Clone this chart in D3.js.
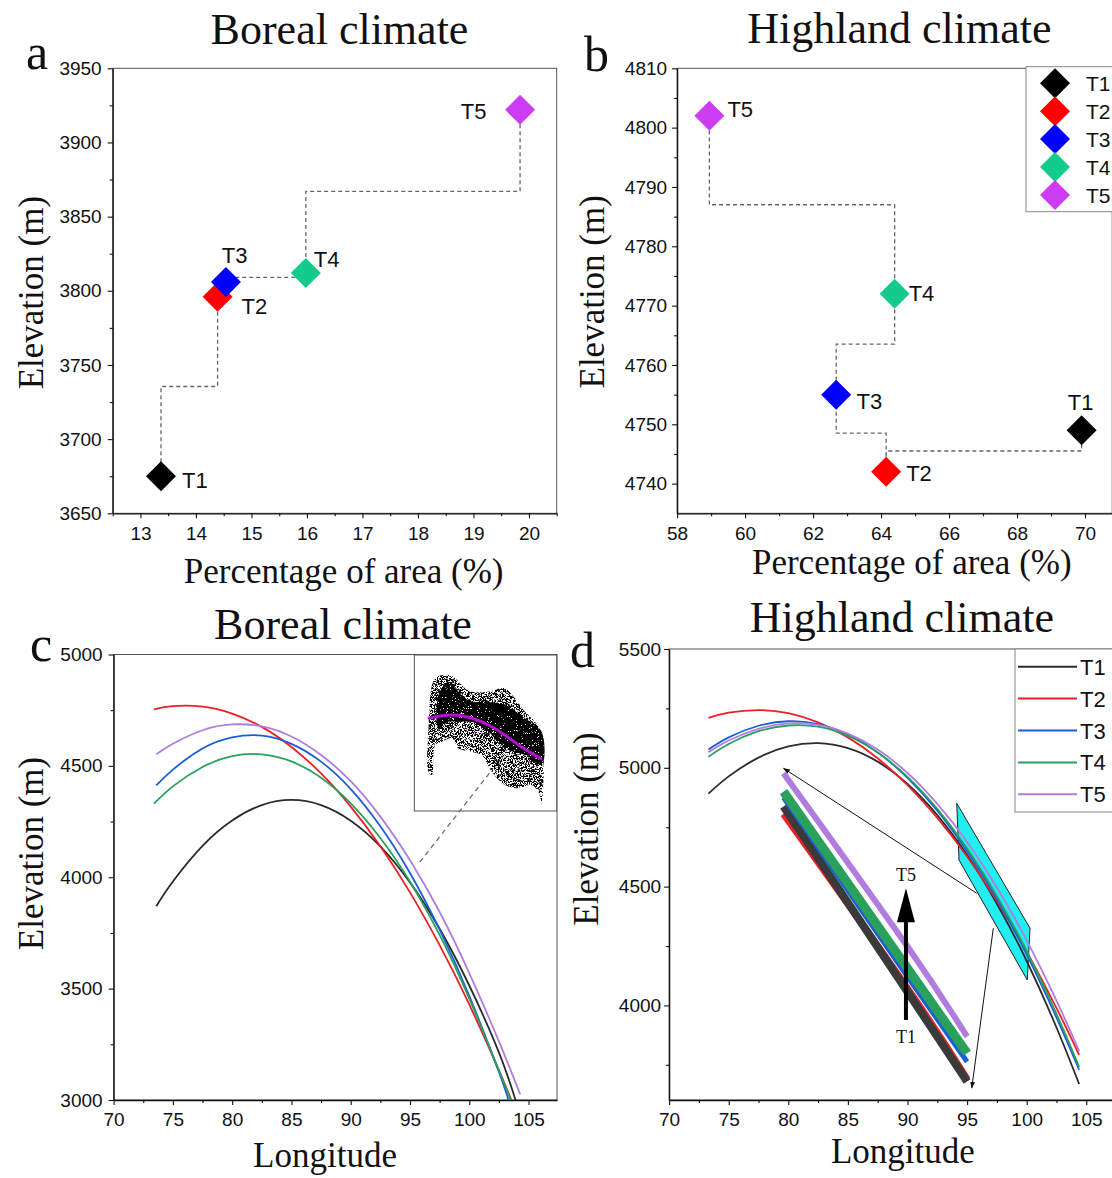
<!DOCTYPE html>
<html>
<head>
<meta charset="utf-8" />
<title>Elevation of T1-T5 in boreal and highland climate</title>
<style>
html, body { margin: 0; padding: 0; background: #fff; }
svg text { font-family: "Liberation Sans", Arial, sans-serif; fill: #111; }
svg text.serif { font-family: "Liberation Serif", "Times New Roman", serif; }
</style>
</head>
<body>
<svg id="chart" width="1112" height="1178"></svg>
<script src="https://d3js.org/d3.v7.min.js"></script>
<script>

// ---------------------------------------------------------
// Data

const classes = ['T1', 'T2', 'T3', 'T4', 'T5']
const markerColors = ['#000000', '#ff0000', '#0000ff', '#14cc8a', '#cc3cf2']
const lineColors = ['#2b2b2b', '#ec2027', '#1b5fd8', '#29a05c', '#b07ddf']

// a - boreal climate: elevation vs share of area
const borealPct = [13.37, 14.39, 14.54, 15.98, 19.84]
const borealElev = [3675, 3796, 3806, 3812, 3922]

// b - highland climate
const highlandPct = [69.9, 64.15, 62.68, 64.4, 58.95]
const highlandElev = [4749, 4742, 4755, 4772, 4802]

// tick labels
const pctTicksA = [13, 14, 15, 16, 17, 18, 19, 20]
const elevTicksA = [3650, 3700, 3750, 3800, 3850, 3900, 3950]
const pctTicksB = [58, 60, 62, 64, 66, 68, 70]
const elevTicksB = [4740, 4750, 4760, 4770, 4780, 4790, 4800, 4810]
const lonTicks = [70, 75, 80, 85, 90, 95, 100, 105]
const elevTicksC = [3000, 3500, 4000, 4500, 5000]
const elevTicksD = [4000, 4500, 5000, 5500]

// c - boreal fitted curves [longitude, elevation]
const borealT1 = [[73.6,3870],[75,3981],[77.5,4141],[80,4255],[82.5,4324],[85,4347],[87.5,4324],[90,4254],[92.5,4139],[95,3977],[97.5,3769],[100,3514],[102.5,3214],[103.9,3000]]
const borealT2 = [[73.4,4754],[75,4768],[77.5,4766],[80,4735],[82.5,4675],[85,4585],[87.5,4466],[90,4317],[92.5,4139],[95,3932],[97.5,3695],[100,3429],[102.5,3133],[103.55,3000]]
const borealT3 = [[73.6,4412],[75,4483],[77.5,4578],[80,4628],[82.5,4636],[85,4599],[87.5,4519],[90,4396],[92.5,4229],[95,4019],[97.5,3765],[100,3468],[102.5,3126],[103.3,3000]]
const borealT4 = [[73.4,4330],[75,4408],[77.5,4495],[80,4544],[82.5,4552],[85,4520],[87.5,4447],[90,4332],[92.5,4176],[95,3980],[97.5,3741],[100,3455],[102.5,3133],[103.5,3000]]
const borealT5 = [[73.6,4552],[75,4599],[77.5,4660],[80,4686],[82.5,4677],[85,4632],[87.5,4549],[90,4431],[92.5,4272],[95,4076],[97.5,3844],[100,3570],[102.5,3263],[104.3,3025]]

// c inset - T5 sample cloud (outline of scatter) and its fit
const cloudOuterTop = [[75.4,4620],[77.0,5902],[80.2,5987],[81.75,5902],[84.1,5646],[85.7,5560],[89.7,5560],[93.6,5646],[96.0,5389],[98.4,5046],[100.8,4790],[102.4,4449]]
const cloudOuterBottom = [[102.4,2739],[101.6,2995],[100.0,3167],[96.8,3082],[93.6,3167],[90.5,3508],[88.1,3936],[85.7,4021],[82.5,4107],[81.0,4364],[78.6,4277],[77.0,4192],[76.2,3423],[75.4,3508]]
const cloudCoreTop = [[77.8,5474],[80.2,5816],[83.3,5474],[85.7,5303],[89.7,5303],[93.6,5218],[98.4,4877],[102.4,4533]]
const cloudCoreBottom = [[102.4,3679],[98.4,3936],[93.6,4107],[89.7,4533],[85.7,4790],[83.3,4790],[80.2,4790],[77.8,4620]]
const cloudFit = [[75.25,4877],[78.5,4940],[81.75,4961],[85.7,4877],[89.7,4705],[93.6,4449],[97.5,4149],[102.5,3825]]

// d - highland fitted curves
const highlandT1 = [[73.3,4891],[75,4964],[77.5,5043],[80,5090],[82.5,5104],[85,5083],[87.5,5026],[90,4932],[92.5,4801],[95,4633],[97.5,4428],[100,4187],[102.5,3907],[104.4,3669]]
const highlandT2 = [[73.3,5210],[75,5232],[77.5,5243],[80,5230],[82.5,5191],[85,5128],[87.5,5040],[90,4927],[92.5,4789],[95,4627],[97.5,4439],[100,4226],[102.5,3989],[104.4,3792]]
const highlandT3 = [[73.3,5077],[75,5128],[77.5,5177],[80,5196],[82.5,5184],[85,5140],[87.5,5065],[90,4958],[92.5,4820],[95,4649],[97.5,4448],[100,4214],[102.5,3949],[104.4,3729]]
const highlandT4 = [[73.3,5046],[75,5100],[77.5,5154],[80,5178],[82.5,5173],[85,5135],[87.5,5064],[90,4962],[92.5,4827],[95,4660],[97.5,4460],[100,4229],[102.5,3965],[104.4,3741]]
const highlandT5 = [[73.3,5066],[75,5115],[77.5,5164],[80,5187],[82.5,5181],[85,5144],[87.5,5077],[90,4978],[92.5,4848],[95,4688],[97.5,4496],[100,4274],[102.5,4020],[104.4,3808]]

// d - magnified segment (drawn inside the plot)
const zoomLon = [79.6, 89.9, 95.0]
const zoomT1 = [4837, 4065, 3680]
const zoomT2 = [4806, 4079, 3690]
const zoomT3 = [4875, 4128, 3763]
const zoomT4 = [4900, 4163, 3799]
const zoomT5 = [4977, 4255, 3869]

// d - annotations (longitude, elevation)
const cyanBox = [[94.13,4851],[100.28,4325],[100.05,4107],[94.32,4612]]
const arrowToZoomTop = [[95.81,4472],[79.6,4998]]
const arrowToZoomEnd = [[97.2,4325],[95.39,3652]]
const trendArrow = [[89.87,3939],[89.87,4493]]

// --------------------------------------------------------
// Setup

const svg = d3.select('#chart')
svg.append('rect').attr('width', 1112).attr('height', 1178).attr('fill', '#fff')

const defs = svg.append('defs')
defs.append('marker')
  .attr('id', 'head')
  .attr('viewBox', '0 0 10 10')
  .attr('refX', 9).attr('refY', 5)
  .attr('markerWidth', 7).attr('markerHeight', 7)
  .attr('orient', 'auto')
  .append('path').attr('d', 'M0,1.5 L10,5 L0,8.5 z').attr('fill', '#111')

// speckle texture so the inset cloud looks like a scatter
function speckle(id, bias) {
  const f = defs.append('filter').attr('id', id)
    .attr('x', 0).attr('y', 0).attr('width', 1).attr('height', 1)
  f.append('feTurbulence').attr('type', 'fractalNoise')
    .attr('baseFrequency', 1.6).attr('numOctaves', 2).attr('seed', 7).attr('result', 'n')
  f.append('feColorMatrix').attr('in', 'n').attr('type', 'matrix')
    .attr('values', `0 0 0 0 0  0 0 0 0 0  0 0 0 0 0  16 0 0 0 ${bias}`).attr('result', 'm')
  f.append('feComposite').attr('in', 'SourceGraphic').attr('in2', 'm').attr('operator', 'in')
}
speckle('sparse', -7.4)
speckle('dense', -4.4)

const fmt = d3.format('d')

function panel(opt) {
  const x = d3.scaleLinear().domain(opt.xDomain).range([opt.left, opt.right])
  const y = d3.scaleLinear().domain(opt.yDomain).range([opt.bottom, opt.top])
  const g = svg.append('g')

  g.append('clipPath').attr('id', 'clip-' + opt.id)
    .append('rect')
    .attr('x', opt.left).attr('y', opt.top)
    .attr('width', opt.right - opt.left).attr('height', opt.bottom - opt.top)

  g.append('rect')
    .attr('x', opt.left).attr('y', opt.top)
    .attr('width', opt.right - opt.left).attr('height', opt.bottom - opt.top)
    .attr('fill', 'none').attr('stroke', '#555').attr('stroke-width', 1)

  const xg = g.append('g').attr('transform', `translate(0,${opt.bottom})`)
  xg.call(d3.axisBottom(x).tickValues(opt.xTicks).tickFormat(fmt).tickSize(5).tickSizeOuter(0).tickPadding(opt.xPad))
  xg.append('g').call(d3.axisBottom(x).tickValues(opt.xMinor).tickSize(3).tickFormat(''))
    .call(s => s.select('.domain').remove())

  const yg = g.append('g').attr('transform', `translate(${opt.left},0)`)
  yg.call(d3.axisLeft(y).tickValues(opt.yTicks).tickFormat(fmt).tickSize(5).tickSizeOuter(0).tickPadding(opt.yPad))
  yg.append('g').call(d3.axisLeft(y).tickValues(opt.yMinor).tickSize(3).tickFormat(''))
    .call(s => s.select('.domain').remove())

  g.selectAll('.domain').attr('stroke', '#111').attr('stroke-width', 1.3)
  g.selectAll('.tick line').attr('stroke', '#111').attr('stroke-width', 1.1)
  g.selectAll('.tick text')
    .attr('font-size', 19)
    .attr('font-family', '"Liberation Sans", Arial, sans-serif')
    .attr('fill', '#111')

  const t = (txt, px, py, size, anchor, rot) => {
    const el = g.append('text').attr('class', 'serif')
      .attr('font-size', size).attr('text-anchor', anchor).text(txt)
    if (rot) el.attr('transform', `translate(${px},${py}) rotate(-90)`)
    else el.attr('x', px).attr('y', py)
    return el
  }
  t(opt.title, opt.titleX, opt.titleY, 44, 'middle')
  t(opt.letter, opt.letterX, opt.letterY, 50, 'start')
  t(opt.xLabel, opt.xLabelX, opt.xLabelY, 35, 'middle')
  t('Elevation (m)', opt.yLabelX, opt.yLabelY, 35, 'middle', true)

  return { g, x, y, clip: 'url(#clip-' + opt.id + ')' }
}

// vertical step through the midpoints between consecutive classes
function stepPoints(xs, ys) {
  const pts = [[xs[0], ys[0]]]
  for (let i = 1; i < xs.length; i++) {
    const mid = (ys[i - 1] + ys[i]) / 2
    pts.push([xs[i - 1], mid], [xs[i], mid], [xs[i], ys[i]])
  }
  return pts
}

const diamond = d3.symbol().type(d3.symbolSquare).size(450)

function scatterPanel(p, xs, ys, labelPos) {
  const line = d3.line().x(d => p.x(d[0])).y(d => p.y(d[1]))
  p.g.append('path')
    .attr('d', line(stepPoints(xs, ys)))
    .attr('fill', 'none').attr('stroke', '#666')
    .attr('stroke-width', 1.3).attr('stroke-dasharray', '4,3')

  classes.forEach((c, i) => {
    const cx = p.x(xs[i]), cy = p.y(ys[i])
    p.g.append('path')
      .attr('d', diamond())
      .attr('transform', `translate(${cx},${cy}) rotate(45)`)
      .attr('fill', markerColors[i])
    const lp = labelPos[i]
    p.g.append('text')
      .attr('x', cx + lp[0]).attr('y', cy + lp[1])
      .attr('text-anchor', lp[2])
      .attr('font-size', 22)
      .text(c)
  })
}

// --------------------------------------------------------
// a - Boreal climate

const pa = panel({
  id: 'a', left: 112.7, right: 556.7, top: 68.3, bottom: 513.3,
  xDomain: [12.5, 20.5], yDomain: [3650, 3950],
  xTicks: pctTicksA, xMinor: d3.range(12.5, 20.6, 1),
  yTicks: elevTicksA, yMinor: d3.range(3675, 3950, 50),
  xPad: 8, yPad: 6,
  title: 'Boreal climate', titleX: 339.5, titleY: 44,
  letter: 'a', letterX: 26, letterY: 69,
  xLabel: 'Percentage of area (%)', xLabelX: 343.7, xLabelY: 583,
  yLabelX: 43, yLabelY: 292.6
})
scatterPanel(pa, borealPct, borealElev, [
  [21, 11.5, 'start'], [24, 17, 'start'], [8.7, -19, 'middle'], [8, -6, 'start'], [-33.6, 9.6, 'end']
])

// --------------------------------------------------------
// b - Highland climate

const pb = panel({
  id: 'b', left: 677.1, right: 1112.2, top: 68.3, bottom: 513.3,
  xDomain: [58, 70.8], yDomain: [4735, 4810],
  xTicks: pctTicksB, xMinor: d3.range(59, 71, 2),
  yTicks: elevTicksB, yMinor: d3.range(4745, 4810, 10),
  xPad: 8, yPad: 5,
  title: 'Highland climate', titleX: 899.3, titleY: 43,
  letter: 'b', letterX: 584, letterY: 71,
  xLabel: 'Percentage of area (%)', xLabelX: 911.8, xLabelY: 574,
  yLabelX: 604, yLabelY: 291.8
})
scatterPanel(pb, highlandPct, highlandElev, [
  [-1, -20.7, 'middle'], [20, 9.6, 'start'], [20.4, 14, 'start'], [14, 7.6, 'start'], [18, 1, 'start']
])

// legend b
const legB = pb.g.append('g')
legB.append('rect').attr('x', 1026).attr('y', 66.7).attr('width', 100).attr('height', 145)
  .attr('fill', '#fff').attr('stroke', '#888')
classes.forEach((c, i) => {
  const ly = 83.3 + i * 27.9
  legB.append('path').attr('d', diamond())
    .attr('transform', `translate(1055,${ly}) rotate(45)`)
    .attr('fill', markerColors[i])
  legB.append('text').attr('x', 1086).attr('y', ly + 8).attr('font-size', 21).text(c)
})

// --------------------------------------------------------
// c - Boreal fitted curves

const pc = panel({
  id: 'c', left: 113.6, right: 557, top: 654.5, bottom: 1100,
  xDomain: [70, 107.4], yDomain: [3000, 5000],
  xTicks: lonTicks, xMinor: d3.range(72.5, 107, 5),
  yTicks: elevTicksC, yMinor: d3.range(3250, 5000, 500),
  xPad: 8, yPad: 6,
  title: 'Boreal climate', titleX: 343, titleY: 639,
  letter: 'c', letterX: 30, letterY: 661,
  xLabel: 'Longitude', xLabelX: 325, xLabelY: 1167,
  yLabelX: 43, yLabelY: 853.5
})
const curve = p => d3.line().curve(d3.curveNatural).x(d => p.x(d[0])).y(d => p.y(d[1]))

const borealCurves = [borealT1, borealT2, borealT3, borealT4, borealT5]
const cLines = pc.g.append('g').attr('clip-path', pc.clip)
borealCurves.forEach((s, i) => {
  cLines.append('path').attr('d', curve(pc)(s))
    .attr('fill', 'none').attr('stroke', lineColors[i]).attr('stroke-width', 1.8)
})

// inset with the T5 sample cloud
const xIn = d3.scaleLinear().domain([72, 106]).range([414.3, 556.7])
const yIn = d3.scaleLinear().domain([2500, 6500]).range([811, 655])
const inset = pc.g.append('g')
inset.append('rect').attr('x', 414.3).attr('y', 655).attr('width', 142.4).attr('height', 156)
  .attr('fill', '#fff').attr('stroke', '#555')
const blob = d3.line().curve(d3.curveCatmullRomClosed).x(d => xIn(d[0])).y(d => yIn(d[1]))
inset.append('path').attr('d', blob(cloudOuterTop.concat(cloudOuterBottom)))
  .attr('fill', '#000').attr('filter', 'url(#sparse)')
inset.append('path').attr('d', blob(cloudCoreTop.concat(cloudCoreBottom)))
  .attr('fill', '#000').attr('filter', 'url(#dense)')
inset.append('path')
  .attr('d', d3.line().curve(d3.curveNatural).x(d => xIn(d[0])).y(d => yIn(d[1]))(cloudFit))
  .attr('fill', 'none').attr('stroke', '#b40fd2').attr('stroke-width', 3)

// dashed pointer from the curves to the inset
pc.g.append('line')
  .attr('x1', pc.x(95.83)).attr('y1', pc.y(4068))
  .attr('x2', pc.x(102.02)).attr('y2', pc.y(4489))
  .attr('stroke', '#666').attr('stroke-width', 1.2).attr('stroke-dasharray', '5,4')

// --------------------------------------------------------
// d - Highland fitted curves

const pd = panel({
  id: 'd', left: 669.1, right: 1114.9, top: 649, bottom: 1100,
  xDomain: [70, 107.4], yDomain: [3602, 5500],
  xTicks: lonTicks, xMinor: d3.range(72.5, 107, 5),
  yTicks: elevTicksD, yMinor: d3.range(3750, 5500, 500),
  xPad: 8, yPad: 3,
  title: 'Highland climate', titleX: 901.8, titleY: 632,
  letter: 'd', letterX: 570, letterY: 667,
  xLabel: 'Longitude', xLabelX: 902.9, xLabelY: 1163,
  yLabelX: 598, yLabelY: 829
})

const dG = pd.g.append('g').attr('clip-path', pd.clip)

// magnified band of the curves
const bandLine = d3.line().curve(d3.curveNatural)
const zoomSeries = [zoomT2, zoomT1, zoomT3, zoomT4, zoomT5]
const zoomColors = ['#ec2027', '#3a3a3a', '#1b5fd8', '#29a05c', '#b07ddf']
const bandWidth = [7, 8, 5, 9, 6]
zoomSeries.forEach((s, i) => {
  const pts = zoomLon.map((lon, k) => [pd.x(lon), pd.y(s[k])])
  dG.append('path').attr('d', bandLine(pts))
    .attr('fill', 'none').attr('stroke', zoomColors[i])
    .attr('stroke-width', bandWidth[i])
})

// cyan selection box
dG.append('path')
  .attr('d', d3.line().x(d => pd.x(d[0])).y(d => pd.y(d[1]))(cyanBox) + 'Z')
  .attr('fill', '#22eef2').attr('stroke', '#222').attr('stroke-width', 1)

const highlandCurves = [highlandT1, highlandT2, highlandT3, highlandT4, highlandT5]
highlandCurves.forEach((s, i) => {
  dG.append('path').attr('d', curve(pd)(s))
    .attr('fill', 'none').attr('stroke', lineColors[i]).attr('stroke-width', 1.8)
})

// thin pointers from the box to the magnified band
;[arrowToZoomTop, arrowToZoomEnd].forEach(a => {
  dG.append('line')
    .attr('x1', pd.x(a[0][0])).attr('y1', pd.y(a[0][1]))
    .attr('x2', pd.x(a[1][0])).attr('y2', pd.y(a[1][1]))
    .attr('stroke', '#111').attr('stroke-width', 1)
    .attr('marker-end', 'url(#head)')
})

// T1 -> T5 arrow
const ax = pd.x(trendArrow[0][0])
const aTip = pd.y(trendArrow[1][1])
dG.append('line')
  .attr('x1', ax).attr('y1', pd.y(trendArrow[0][1]))
  .attr('x2', ax).attr('y2', aTip + 30)
  .attr('stroke', '#000').attr('stroke-width', 4)
dG.append('path')
  .attr('d', `M${ax},${aTip} L${ax + 9},${aTip + 34} L${ax - 9},${aTip + 34} Z`)
  .attr('fill', '#000')
pd.g.append('text').attr('class', 'serif').attr('x', ax).attr('y', pd.y(4549) + 6)
  .attr('text-anchor', 'middle').attr('font-size', 18).text('T5')
pd.g.append('text').attr('class', 'serif').attr('x', ax).attr('y', pd.y(3869) + 6)
  .attr('text-anchor', 'middle').attr('font-size', 18).text('T1')

// legend d
const legD = pd.g.append('g')
legD.append('rect').attr('x', 1015).attr('y', 649).attr('width', 110).attr('height', 163)
  .attr('fill', '#fff').attr('stroke', '#888')
classes.forEach((c, i) => {
  const ly = 666.7 + i * 31.9
  legD.append('line').attr('x1', 1018).attr('x2', 1077).attr('y1', ly).attr('y2', ly)
    .attr('stroke', lineColors[i]).attr('stroke-width', 2)
  legD.append('text').attr('x', 1080).attr('y', ly + 8).attr('font-size', 22).text(c)
})

</script>
</body>
</html>
